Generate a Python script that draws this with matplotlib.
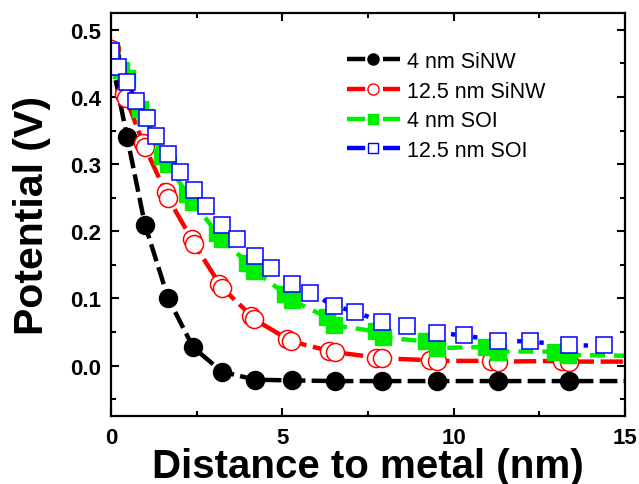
import matplotlib
matplotlib.use("Agg")
import matplotlib.pyplot as plt
from matplotlib.lines import Line2D
from matplotlib.ticker import MultipleLocator

plt.rcParams['font.family'] = ['Liberation Sans', 'DejaVu Sans']

# 4 nm SiNW
sinw4_x = [0.0, 0.47, 0.99, 1.67, 2.40, 3.24, 4.21, 5.29, 6.55, 7.92, 9.50, 11.30, 13.36, 15.8]
sinw4_y = [0.460, 0.340, 0.210, 0.100, 0.027, -0.009, -0.021, -0.022, -0.023, -0.023, -0.023, -0.023, -0.023, -0.023]

# 12.5 nm SiNW
sinw12_x = [0.0, 0.38, 0.44, 0.93, 0.99, 1.60, 1.66, 2.36, 2.43, 3.16, 3.24, 4.10, 4.18,
            5.14, 5.26, 6.37, 6.55, 7.74, 7.92, 9.30, 9.50, 11.10, 11.30, 13.16, 13.36, 15.8]
sinw12_y = [0.472, 0.404, 0.398, 0.332, 0.325, 0.258, 0.250, 0.188, 0.181, 0.122, 0.116, 0.074, 0.069,
            0.040, 0.036, 0.022, 0.020, 0.012, 0.011, 0.008, 0.007, 0.007, 0.006, 0.007, 0.006, 0.006]

# 4 nm SOI
soi4_x = [0.0, 0.30, 0.47, 0.85, 0.99, 1.50, 1.67, 2.22, 2.40, 3.08, 3.24, 3.98, 4.18,
          5.09, 5.29, 6.30, 6.52, 7.72, 7.95, 9.20, 9.50, 10.94, 11.29, 12.95, 13.33, 15.8]
soi4_y = [0.468, 0.440, 0.428, 0.382, 0.370, 0.312, 0.300, 0.255, 0.244, 0.198, 0.188, 0.153, 0.141,
          0.107, 0.097, 0.072, 0.060, 0.051, 0.042, 0.036, 0.026, 0.028, 0.021, 0.021, 0.016, 0.014]

# 12.5 nm SOI
soi12_x = [0.0, 0.19, 0.47, 0.73, 1.05, 1.32, 1.67, 2.02, 2.43, 2.78, 3.25, 3.68, 4.21,
           4.68, 5.29, 5.82, 6.52, 7.13, 7.92, 8.63, 9.50, 10.29, 11.29, 12.22, 13.36, 14.39, 15.8]
soi12_y = [0.468, 0.444, 0.422, 0.394, 0.368, 0.342, 0.315, 0.288, 0.262, 0.238, 0.210, 0.189, 0.163,
           0.146, 0.122, 0.108, 0.089, 0.080, 0.065, 0.059, 0.049, 0.045, 0.037, 0.036, 0.030, 0.030, 0.028]

labels = ['4 nm SiNW', '12.5 nm SiNW', '4 nm SOI', '12.5 nm SOI']
green = '#00ee00'

fig = plt.figure(figsize=(6.39, 4.85), dpi=100)
ax = fig.add_axes([111/639, 1 - 417/485, 514/639, 403/485])

lw = 3.2
ax.plot(sinw4_x, sinw4_y, color='black', lw=lw, ls=(0, (4, 1.4)),
        marker='o', ms=13, mfc='black', mec='black')
ax.plot(sinw12_x, sinw12_y, color='red', lw=lw, ls=(0, (5, 1.5)),
        marker='o', ms=13, mfc='white', mec='red', mew=1.1)
ax.plot(soi4_x, soi4_y, color=green, lw=lw, ls=(0, (3.4, 2)),
        marker='s', ms=11.5, mfc=green, mec=green)
ax.plot(soi12_x, soi12_y, color='blue', lw=lw, ls=(0, (1, 4)),
        marker='s', ms=11.5, mfc='white', mec='blue', mew=1.1)

ax.set_xlim(0, 15)
ax.set_ylim(-0.075, 0.525)
ax.xaxis.set_major_locator(MultipleLocator(5))
ax.xaxis.set_minor_locator(MultipleLocator(2.5))
ax.yaxis.set_major_locator(MultipleLocator(0.1))
ax.yaxis.set_minor_locator(MultipleLocator(0.05))

ax.tick_params(which='both', direction='in', top=True, right=True, width=1.5)
ax.tick_params(which='major', length=6, labelsize=16)
ax.tick_params(axis='x', which='major', pad=8)
ax.tick_params(axis='y', which='major', pad=7)
ax.tick_params(which='minor', length=3.5)
for lab in ax.get_xticklabels() + ax.get_yticklabels():
    lab.set_fontweight('bold')
for sp in ax.spines.values():
    sp.set_linewidth(1.6)

ax.set_xlabel('Distance to metal (nm)', fontsize=29, fontweight='bold', labelpad=-1)
ax.set_ylabel('Potential (V)', fontsize=29.5, fontweight='bold', labelpad=14)

# legend handles: dash - marker - dash
leg_ls = (0, (4.1, 4.0))
handles = [
    Line2D([], [], color='black', lw=lw, ls=leg_ls, marker='o', ms=8, mfc='black', mec='black'),
    Line2D([], [], color='red', lw=lw, ls=leg_ls, marker='o', ms=8, mfc='white', mec='red', mew=1),
    Line2D([], [], color=green, lw=lw, ls=leg_ls, marker='s', ms=7, mfc=green, mec=green),
    Line2D([], [], color='blue', lw=lw, ls=leg_ls, marker='s', ms=7, mfc='white', mec='blue', mew=1),
]
ax.legend(handles, labels, loc='upper left', bbox_to_anchor=(347/639, 1 - 52/485),
          bbox_transform=fig.transFigure, frameon=False, fontsize=15.5,
          borderpad=0, borderaxespad=0, handlelength=2.45, handletextpad=0.35,
          labelspacing=0.4)

fig.savefig('out.png', dpi=100)
